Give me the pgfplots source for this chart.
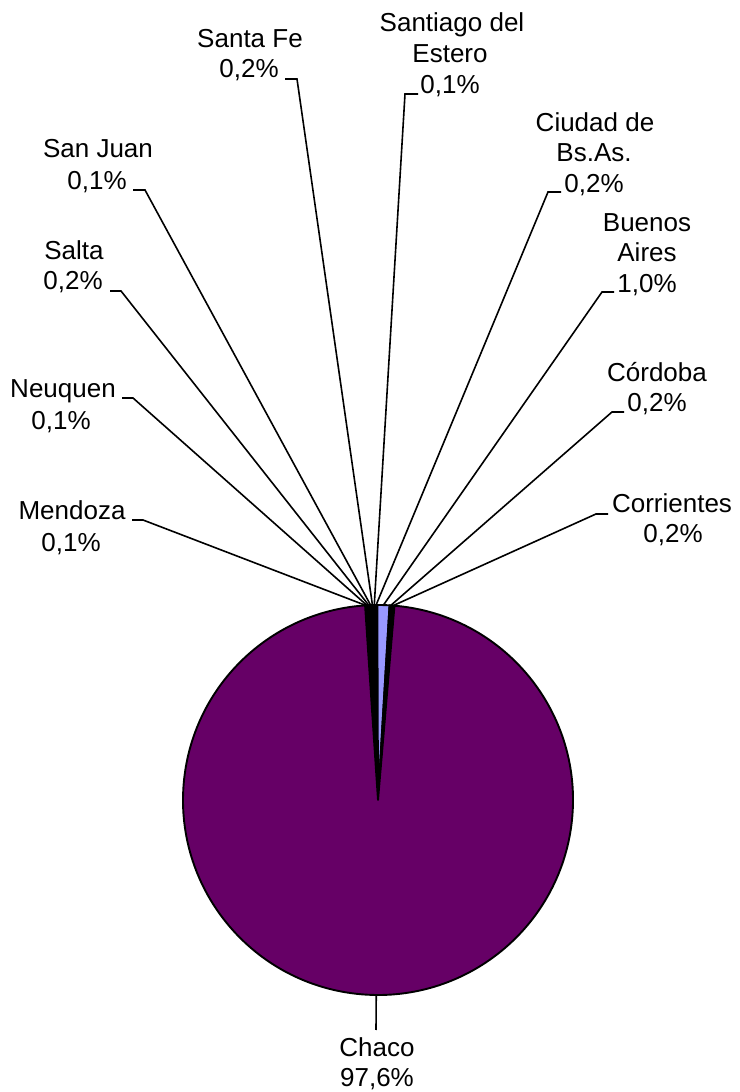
\documentclass[border=0pt]{standalone}
\usepackage{pgfplots}
\pgfplotsset{compat=1.18}
\usepackage{pgfplotstable}
\usepackage{fontspec}
\setmainfont{Liberation Sans}

\definecolor{chaco}{HTML}{660066}
\definecolor{pieblue}{HTML}{9999FF}

% shares in percent, clockwise from the top of the pie
\pgfplotstableread[col sep=comma]{
region,share,fill
Mendoza,0.1,black
Neuquen,0.1,black
Salta,0.2,black
San Juan,0.1,black
Santa Fe,0.2,black
Santiago del Estero,0.1,black
Ciudad de Bs.As.,0.2,black
Buenos Aires,1.0,pieblue
Córdoba,0.2,black
Corrientes,0.2,black
Chaco,97.6,chaco
}\piedata

% build the slices (and remember each slice's middle angle for the leaders)
\pgfplotstablegetrowsof{\piedata}%
\pgfmathtruncatemacro\lastrow{\pgfplotsretval-1}%
\def\pieslices{}%
\def\pieangle{93.8}%
\pgfplotsforeachungrouped \i in {0,...,\lastrow}{%
  \pgfplotstablegetelem{\i}{share}\of\piedata\let\pieshare\pgfplotsretval
  \pgfplotstablegetelem{\i}{fill}\of\piedata\let\piefill\pgfplotsretval
  \pgfmathsetmacro\pieend{\pieangle-3.6*\pieshare}%
  \pgfmathsetmacro\piemidval{\pieangle-1.8*\pieshare}%
  \expandafter\xdef\csname piemid\i\endcsname{\piemidval}%
  \xdef\pieslices{\unexpanded\expandafter{\pieslices}%
    \noexpand\filldraw[fill=\piefill] (axis cs:378,292) -- ++(\pieangle:97.5bp)
      arc[start angle=\pieangle, end angle=\pieend, radius=97.5bp] -- cycle;}%
  \global\let\pieangle\pieend
}%
\newcommand\piemid[1]{\csname piemid#1\endcsname}

\tikzset{lbl/.style={anchor=base, inner sep=0pt, font=\fontsize{13bp}{15.5bp}\selectfont}}

\begin{document}
\begin{tikzpicture}
\begin{axis}[
    x=0.5bp, y=0.5bp,
    xmin=0, xmax=739, ymin=0, ymax=1092,
    hide axis, clip=false
]
\path (axis cs:0,0) rectangle (axis cs:739,1092);

% pie
\begin{scope}[line width=0.95bp, line join=round]
\pieslices
\end{scope}

% leader lines
\begin{scope}[line width=0.8bp]
\draw (axis cs:378,292) ++(\piemid{0}:97.5bp) -- (axis cs:143,572) -- (axis cs:132,572);
\draw (axis cs:378,292) ++(\piemid{1}:97.5bp) -- (axis cs:133,694) -- (axis cs:122,694);
\draw (axis cs:378,292) ++(\piemid{2}:97.5bp) -- (axis cs:121,801) -- (axis cs:110,801);
\draw (axis cs:378,292) ++(\piemid{3}:97.5bp) -- (axis cs:145,902) -- (axis cs:133,902);
\draw (axis cs:378,292) ++(\piemid{4}:97.5bp) -- (axis cs:297,1013) -- (axis cs:285,1013);
\draw (axis cs:378,292) ++(\piemid{5}:97.5bp) -- (axis cs:405,998) -- (axis cs:418,998);
\draw (axis cs:378,292) ++(\piemid{6}:97.5bp) -- (axis cs:548,900) -- (axis cs:561,900);
\draw (axis cs:378,292) ++(\piemid{7}:97.5bp) -- (axis cs:602,800) -- (axis cs:614,800);
\draw (axis cs:378,292) ++(\piemid{8}:97.5bp) -- (axis cs:612,680) -- (axis cs:624,680);
\draw (axis cs:378,292) ++(\piemid{9}:97.5bp) -- (axis cs:596,578) -- (axis cs:608,578);
\draw (axis cs:378,292) ++(\piemid{10}:97.5bp) -- (axis cs:376,62);
\end{scope}

% labels
\node[lbl] at (axis cs:72,572) {Mendoza};
\node[lbl] at (axis cs:71,540) {0,1\%};
\node[lbl] at (axis cs:63,694) {Neuquen};
\node[lbl] at (axis cs:61,662) {0,1\%};
\node[lbl] at (axis cs:74,832) {Salta};
\node[lbl] at (axis cs:73,802) {0,2\%};
\node[lbl] at (axis cs:98,934) {San Juan};
\node[lbl] at (axis cs:97,902) {0,1\%};
\node[lbl] at (axis cs:250,1044) {Santa Fe};
\node[lbl] at (axis cs:249,1014) {0,2\%};
\node[lbl] at (axis cs:452,1060) {Santiago del};
\node[lbl] at (axis cs:450,1029) {Estero};
\node[lbl] at (axis cs:450,998) {0,1\%};
\node[lbl] at (axis cs:595,960) {Ciudad de};
\node[lbl] at (axis cs:594,930) {Bs.As.};
\node[lbl] at (axis cs:594,899) {0,2\%};
\node[lbl] at (axis cs:647,860) {Buenos};
\node[lbl] at (axis cs:647,830) {Aires};
\node[lbl] at (axis cs:647,799) {1,0\%};
\node[lbl] at (axis cs:657,710) {Córdoba};
\node[lbl] at (axis cs:657,680) {0,2\%};
\node[lbl] at (axis cs:672,579) {Corrientes};
\node[lbl] at (axis cs:673,549) {0,2\%};
\node[lbl] at (axis cs:377,35) {Chaco};
\node[lbl] at (axis cs:377,5) {97,6\%};
\end{axis}
\end{tikzpicture}
\end{document}
